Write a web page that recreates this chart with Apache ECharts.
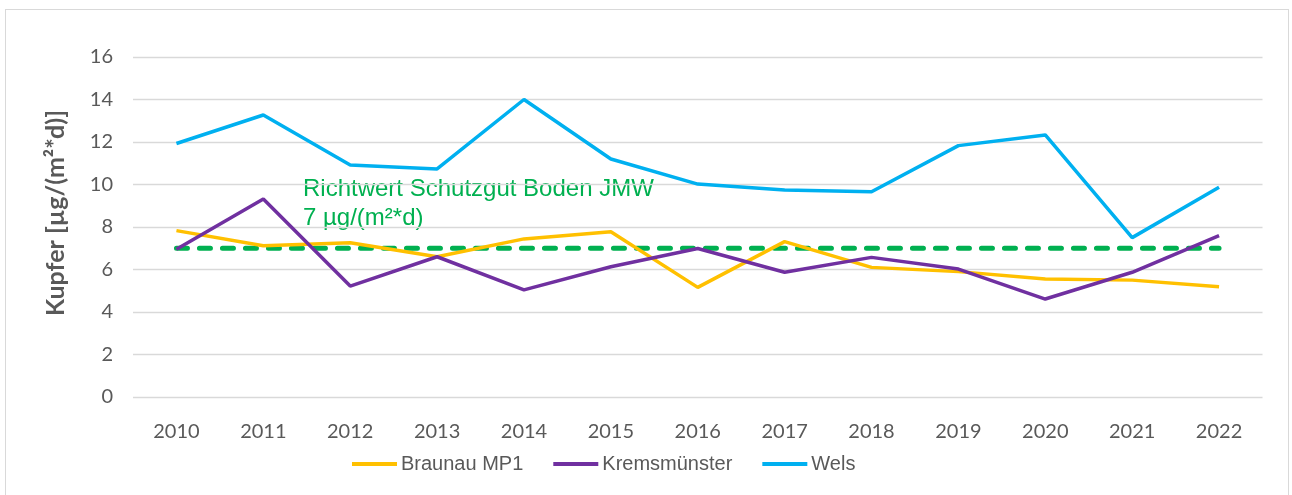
<!DOCTYPE html>
<html>
<head>
<meta charset="utf-8">
<script src="https://cdn.jsdelivr.net/npm/echarts@6/dist/echarts.min.js"></script>
<style>
html,body{margin:0;padding:0;background:#fff;}
#frame{position:absolute;left:5px;top:9px;width:1284px;height:500px;border:1px solid #d9d9d9;box-sizing:border-box;}
#chart{position:absolute;left:0;top:0;width:1292px;height:495px;}
</style>
</head>
<body>
<div id="frame"></div>
<div id="chart"></div>
<script>
const years = ['2010','2011','2012','2013','2014','2015','2016','2017','2018','2019','2020','2021','2022'];
const braunau = [7.83, 7.12, 7.26, 6.6, 7.44, 7.78, 5.16, 7.31, 6.1, 5.9, 5.55, 5.5, 5.19];
const krems = [6.95, 9.32, 5.22, 6.6, 5.04, 6.13, 6.99, 5.87, 6.57, 6.02, 4.61, 5.87, 7.59];
const wels = [11.93, 13.27, 10.92, 10.73, 14.0, 11.2, 10.02, 9.74, 9.66, 11.83, 12.33, 7.5, 9.87];
const richtwert = [7, 7, 7, 7, 7, 7, 7, 7, 7, 7, 7, 7, 7];
const yTicks = [0, 2, 4, 6, 8, 10, 12, 14, 16];
const yTitle = 'Kupfer [µg/(m²*d)]';
const noteText = 'Richtwert Schutzgut Boden JMW\n7 µg/(m²*d)';

const chart = echarts.init(document.getElementById('chart'), null, {renderer: 'canvas'});
chart.setOption({
  animation: false,
  backgroundColor: 'transparent',
  grid: {left: 133, right: 29.5, top: 57, bottom: 98, containLabel: false},
  xAxis: {
    type: 'category', data: years, boundaryGap: true,
    axisLine: {show: false}, axisTick: {show: false},
    axisLabel: {color: '#595959', fontSize: 20, fontFamily: 'Lato, Open Sans, sans-serif', margin: 25}
  },
  yAxis: {
    type: 'value', min: yTicks[0], max: yTicks[yTicks.length-1], interval: 2,
    axisLine: {show: false}, axisTick: {show: false},
    axisLabel: {color: '#595959', fontSize: 20, fontFamily: 'Lato, Open Sans, sans-serif', margin: 20},
    splitLine: {lineStyle: {color: '#d9d9d9', width: 1.3}}
  },
  legend: {
    top: 454, left: 352, padding: 0, itemWidth: 45, itemHeight: 4, itemGap: 30,
    icon: 'rect',
    textStyle: {color: '#595959', fontSize: 20, fontFamily: 'Liberation Sans, Arial, sans-serif', padding: [0,0,0,-1]},
    data: ['Braunau MP1', 'Kremsmünster', 'Wels']
  },
  series: [
    {name: 'Richtwert', type: 'line', data: richtwert, symbol: 'none', silent: true, z: 1,
     lineStyle: {color: '#00B050', width: 5, type: [11, 12], cap: 'round'}},
    {name: 'Braunau MP1', type: 'line', data: braunau, symbol: 'none', z: 2,
     lineStyle: {color: '#FFC000', width: 3.5}, itemStyle: {color: '#FFC000'}},
    {name: 'Kremsmünster', type: 'line', data: krems, symbol: 'none', z: 3,
     lineStyle: {color: '#7030A0', width: 3.5}, itemStyle: {color: '#7030A0'}},
    {name: 'Wels', type: 'line', data: wels, symbol: 'none', z: 4,
     lineStyle: {color: '#00B0F0', width: 3.5}, itemStyle: {color: '#00B0F0'}}
  ],
  graphic: [
    {type: 'text', left: 303, top: 175, z: 0,
     style: {text: noteText, fill: '#00B050', font: '24px "Liberation Sans", Arial, sans-serif', lineHeight: 29}},
    {type: 'text', x: 56, y: 213, rotation: Math.PI / 2,
     style: {text: yTitle, fill: '#595959', font: 'bold 25px Lato, "Open Sans", sans-serif', align: 'center', verticalAlign: 'middle'}}
  ]
});
</script>
</body>
</html>
